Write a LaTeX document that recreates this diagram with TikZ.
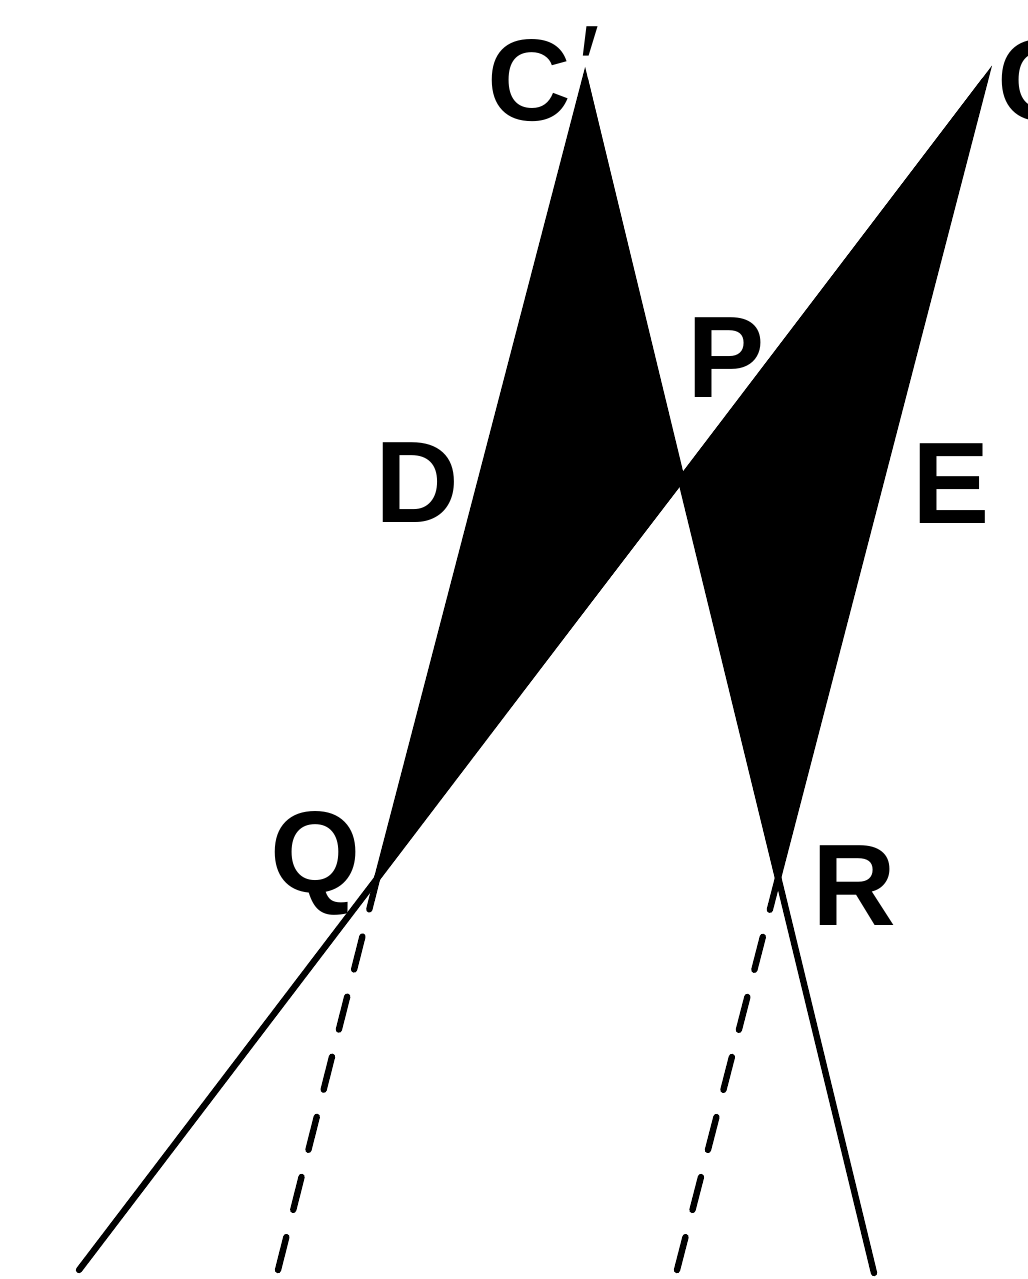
\documentclass[tikz,border=0pt]{standalone}
\usepackage{fontspec}
\setmainfont{Liberation Sans}
\usepackage{tikz}
\usetikzlibrary{positioning,calc}
\tikzset{
  edge/.style={line width=1.8pt, line cap=round},
  ray/.style={edge, dash pattern=on 0.34cm off 0.28cm},
  wedge/.style={fill=black, draw=black, line width=1.8pt},
  lbl/.style={font=\fontsize{33}{36}\selectfont\bfseries, inner sep=0pt, anchor=base west},
}

\begin{document}
\begin{tikzpicture}
    \useasboundingbox (0,0) rectangle (10.28,-12.79);
    \clip (0,0) rectangle (10.28,-12.79);
    % points of the figure
    \coordinate (Cp) at (5.85,-0.80);
    \coordinate (C) at (9.85,-0.80);
    \coordinate (P) at (6.81,-4.80);
    \coordinate (Q) at (3.78,-8.75);
    \coordinate (R) at (7.78,-8.78);
    \coordinate (Qend) at (0.79,-12.70);
    \coordinate (Rend) at (8.74,-12.73);
    \coordinate (Qdash) at (2.78,-12.70);
    \coordinate (Rdash) at (6.77,-12.70);
    % shaded wedges
    \filldraw[wedge] (Cp) -- (Q) -- (P) -- cycle;
    \filldraw[wedge] (C) -- (P) -- (R) -- cycle;
    % lines
    \draw[edge] (C) -- (Qend);
    \draw[edge] (Cp) -- (Rend);
    \draw[ray] (Qdash) -- (Q);
    \draw[ray] (Rdash) -- (R);
    % labels
    \node[lbl] (labCp) at (4.87,-1.21) {C\kern2pt\raisebox{4pt}{\mdseries′}};
    \node[lbl] (labC) at (9.97,-1.21) {C};
    \node[lbl] (labP) at (6.87,-3.97) {P};
    \node[lbl] (labD) at (3.75,-5.22) {D};
    \node[lbl] (labE) at (9.12,-5.23) {E};
    \node[lbl] (labQ) at (2.70,-8.92) {Q};
    \node[lbl] (labR) at (8.12,-9.25) {R};
\end{tikzpicture}
\end{document}
